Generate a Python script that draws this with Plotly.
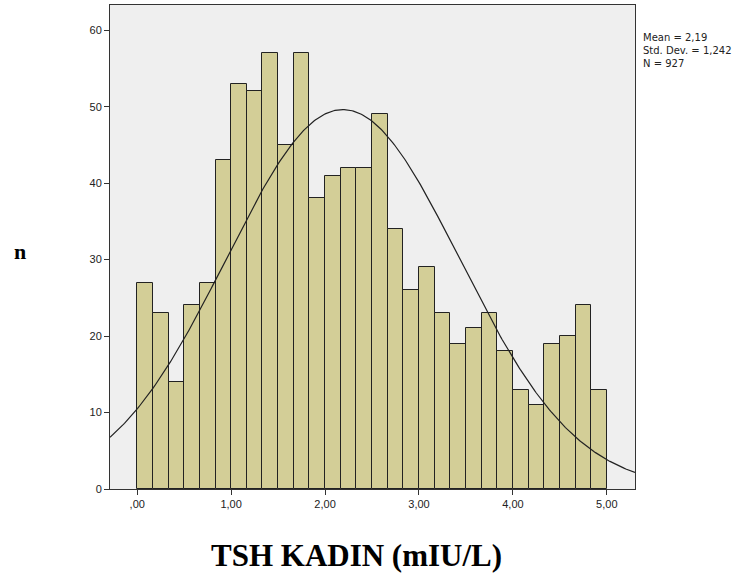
import numpy as np
import plotly.graph_objects as go

bin_start = 0.0
bin_width = 5.0 / 30
counts = [27, 23, 14, 24, 27, 43, 53, 52, 57, 45, 57, 38, 41, 42, 42,
          49, 34, 26, 29, 23, 19, 21, 23, 18, 13, 11, 19, 20, 24, 13]
mean_val = 2.19
sd_val = 1.242
n_val = 927
stats_lines = ["Mean = 2,19", "Std. Dev. = 1,242", "N = 927"]

x_tickvals = [0, 1, 2, 3, 4, 5]
x_ticktext = [",00", "1,00", "2,00", "3,00", "4,00", "5,00"]
y_tickvals = [0, 10, 20, 30, 40, 50, 60]

centers = [bin_start + bin_width * (i + 0.5) for i in range(len(counts))]

xs = np.linspace(-0.29, 5.30, 400)
ys = n_val * bin_width * np.exp(-0.5 * ((xs - mean_val) / sd_val) ** 2) / (sd_val * np.sqrt(2 * np.pi))

fig = go.Figure()
fig.add_trace(go.Bar(x=centers, y=counts, width=bin_width,
                     marker=dict(color="#d3ce97", line=dict(color="#222222", width=1)),
                     showlegend=False, hoverinfo="x+y"))
fig.add_trace(go.Scatter(x=xs, y=ys, mode="lines", line=dict(color="#222222", width=1.2),
                         showlegend=False, hoverinfo="skip"))

annotations = [
    dict(text="<br>".join(stats_lines), xref="paper", yref="paper",
         x=1.012, y=0.905, xanchor="left", yanchor="middle",
         align="left", showarrow=False,
         font=dict(size=10, family="DejaVu Sans", color="#222")),
    dict(text="<b>n</b>", xref="paper", yref="paper", x=-0.171, y=0.49,
         xanchor="center", yanchor="middle", showarrow=False,
         font=dict(size=22, family="Liberation Serif, Times New Roman", color="black")),
    dict(text="<b>TSH KADIN (mIU/L)</b>", xref="paper", yref="paper", x=0.469, y=-0.137,
         xanchor="center", yanchor="middle", showarrow=False,
         font=dict(size=31, family="Liberation Serif, Times New Roman", color="black")),
]

fig.update_layout(
    width=752, height=581,
    margin=dict(l=110, r=117, t=5, b=92),
    paper_bgcolor="white", plot_bgcolor="#efefef",
    font=dict(family="Liberation Sans, Arial", size=11, color="#222"),
    bargap=0,
    xaxis=dict(range=[-0.29, 5.30], tickvals=x_tickvals, ticktext=x_ticktext,
               ticks="outside", ticklen=5, tickcolor="#333", showgrid=False, zeroline=False,
               showline=True, linecolor="#333", linewidth=1, mirror=True,
               tickfont=dict(size=11)),
    yaxis=dict(range=[0, 63.3], tickvals=y_tickvals, ticks="outside", ticklen=5,
               tickcolor="#333", showgrid=False, zeroline=False,
               showline=True, linecolor="#333", linewidth=1, mirror=True,
               tickfont=dict(size=11)),
    annotations=annotations,
)

fig.write_html("out.html", config={"displayModeBar": False},
               post_script="document.body.style.margin='0';")
